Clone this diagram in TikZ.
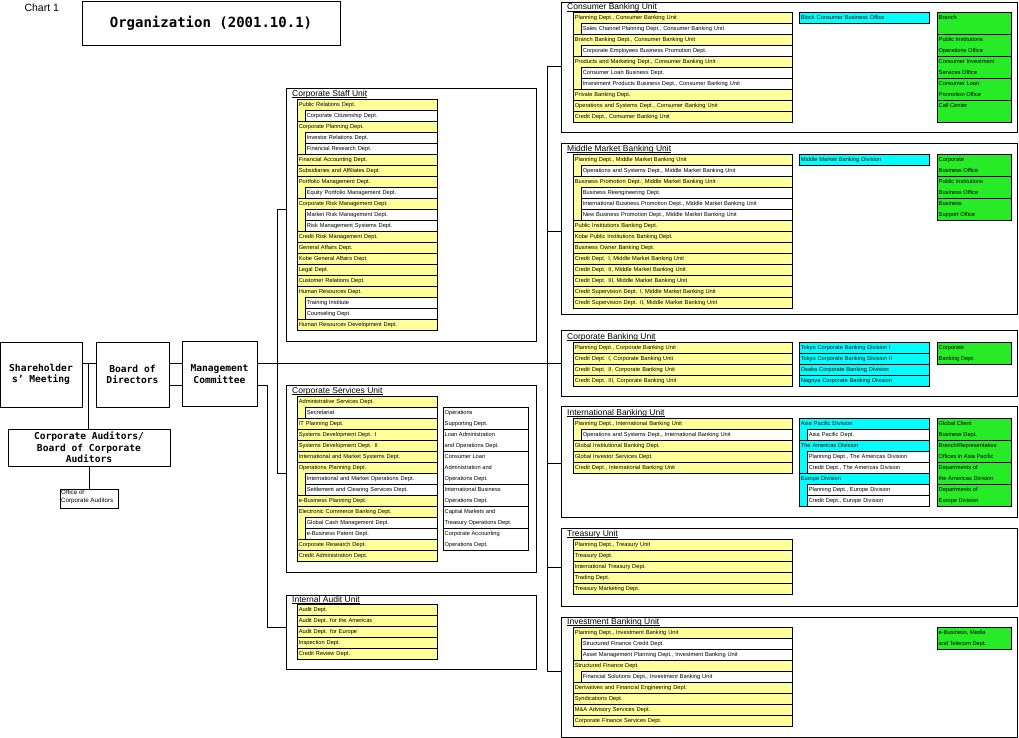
\documentclass[tikz,border=0pt]{standalone}
\usepackage{fontspec}
\setmainfont{Liberation Sans}
\newfontfamily\monobold{DejaVu Sans Mono}
\definecolor{deptyellow}{RGB}{255,255,153}
\definecolor{divcyan}{RGB}{0,255,255}
\definecolor{officegreen}{RGB}{40,235,40}

% #1 prefix, #2 x, #3 top, #4 width, #5 colour, #6 rows {text}/level
\newcommand{\deptcol}[6]{%
  \foreach \lbl/\lvl [count=\i from 0] in {#6} {
    \pgfmathsetmacro{\ytop}{#3+11*\i}
    \xdef\deptrows{\i}
    \ifnum\lvl=0
      \pgfmathsetmacro{\tw}{#4-3}
      \node[deptrow, fill=#5, text width=\tw pt] (#1-\i) at (#2,\ytop) {\lbl};
    \else
      \fill[#5] (#2,\ytop) rectangle ++(8,11);
      \draw[line width=0.6pt] (#2,\ytop) -- ++(0,11);
      \pgfmathsetmacro{\tw}{#4-11}
      \node[deptrow, fill=white, text width=\tw pt] (#1-\i) at (#2+8,\ytop) {\lbl};
    \fi
  }%
  \draw[line width=0.6pt] (#2,#3) rectangle ++(#4,{11*(\deptrows+1)});
}
% #1 prefix, #2 x, #3 top, #4 width, #5 colour, #6 groups {text}/lines
\newcommand{\sidecol}[6]{%
  \foreach \txt/\n [count=\i, remember=\ybot as \yprev (initially #3)] in {#6} {
    \pgfmathsetmacro{\ybot}{\yprev+11*\n}
    \pgfmathsetmacro{\gh}{11*\n}
    \node[sidebox, fill=#5, minimum width=#4, minimum height=\gh pt] (#1-\i) at (#2,\yprev) {};
    \node[sidetext] (#1-\i-t) at ([xshift=1.5pt, yshift=-3pt]#1-\i.north west) {\txt};
  }%
}
% #1 name, #2 x, #3 y, #4 w, #5 h, #6 title, #7 title baseline
\newcommand{\bankunit}[7]{%
  \node[unitbox, minimum width=#4, minimum height=#5] (#1) at (#2,#3) {};
  \node[unittitle] (#1-title) at (#2+6,#7) {#6};
  \draw[line width=0.6pt] ([yshift=-1pt]#1-title.base west) -- ([yshift=-1pt]#1-title.base east);
}

\begin{document}
\begin{tikzpicture}[x=1pt,y=-1pt,
  unitbox/.style={draw, line width=0.6pt, anchor=north west, inner sep=0pt},
  bigbox/.style={draw, line width=0.6pt, align=center, inner sep=0pt,
    font=\monobold\bfseries\fontsize{9.6}{11.5}\selectfont},
  deptrow/.style={draw, line width=0.6pt, anchor=north west, minimum height=11pt,
    inner xsep=1.5pt, inner ysep=0pt, text height=4.2pt, text depth=1.2pt,
    align=left, font=\fontsize{5.7}{7}\selectfont},
  sidebox/.style={draw, line width=0.6pt, anchor=north west, inner sep=0pt},
  sidetext/.style={anchor=north west, inner sep=0pt, align=left,
    font=\fontsize{5.7}{11}\selectfont},
  unittitle/.style={anchor=base west, inner sep=0pt, font=\fontsize{8.5}{10}\selectfont},
  link/.style={line width=0.6pt}]
\useasboundingbox (0,0) rectangle (1019,738);

% heading
\node[anchor=west, font=\fontsize{10.5}{12}\selectfont] (chart) at (21,7.5) {Chart 1};
\node[draw, line width=0.6pt, minimum width=258, minimum height=44,
  font=\monobold\bfseries\fontsize{14}{16}\selectfont] (title) at (211,23) {Organization (2001.10.1)};

% top management
\node[bigbox, minimum width=82, minimum height=65] (share) at (41,374.5) {Shareholder\\s’ Meeting};
\node[bigbox, minimum width=73, minimum height=65] (board) at (132.5,374.5) {Board of\\Directors};
\node[bigbox, minimum width=75, minimum height=65] (mgmt) at (219.5,374) {Management\\Committee};
\node[bigbox, minimum width=162, minimum height=37] (auditors) at (89,447.5)
  {Corporate Auditors/\\Board of Corporate\\Auditors};
\node[draw, line width=0.6pt, minimum width=58, minimum height=19, inner sep=0pt] (office) at (89,498.5) {};
\node[anchor=north west, inner sep=0pt, align=left, font=\fontsize{6.2}{7.4}\selectfont]
  (office-t) at (61,490) {Office of\\Corporate Auditors};

% left units
\bankunit{staff}{286}{88}{250}{253}{Corporate Staff Unit}{96.5}
\deptcol{staff}{297}{99}{140}{deptyellow}{
  {Public Relations Dept.}/0, {Corporate Citizenship Dept.}/1,
  {Corporate Planning Dept.}/0, {Investor Relations Dept.}/1, {Financial Research Dept.}/1,
  {Financial Accounting Dept.}/0, {Subsidiaries and Affiliates Dept.}/0,
  {Portfolio Management Dept.}/0, {Equity Portfolio Management Dept.}/1,
  {Corporate Risk Management Dept.}/0, {Market Risk Management Dept.}/1,
  {Risk Management Systems Dept.}/1, {Credit Risk Management Dept.}/0,
  {General Affairs Dept.}/0, {Kobe General Affairs Dept.}/0, {Legal Dept.}/0,
  {Customer Relations Dept.}/0, {Human Resources Dept.}/0, {Training Institute}/1,
  {Counseling Dept.}/1, {Human Resources Development Dept.}/0}

\bankunit{services}{286}{385}{250}{187}{Corporate Services Unit}{393.5}
\deptcol{services}{297}{396}{140}{deptyellow}{
  {Administrative Services Dept.}/0, {Secretariat}/1, {IT Planning Dept.}/0,
  {Systems Development Dept. I}/0, {Systems Development Dept. II}/0,
  {International and Market Systems Dept.}/0, {Operations Planning Dept.}/0,
  {International and Market Operations Dept.}/1, {Settlement and Clearing Services Dept.}/1,
  {e-Business Planning Dept.}/0, {Electronic Commerce Banking Dept.}/0,
  {Global Cash Management Dept.}/1, {e-Business Patent Dept.}/1,
  {Corporate Research Dept.}/0, {Credit Administration Dept.}/0}
\sidecol{ops}{443}{407}{85}{white}{
  {Operations\\Supporting Dept.}/2, {Loan Administration\\ and Operations Dept.}/2,
  {Consumer Loan\\Administration and\\Operations Dept.}/3,
  {International Business\\Operations Dept.}/2,
  {Capital Markets and\\Treasury Operations Dept.}/2,
  {Corporate Accounting\\Operations Dept.}/2}

\bankunit{audit}{286}{595}{250}{74}{Internal Audit Unit}{602}
\deptcol{audit}{297}{604}{140}{deptyellow}{
  {Audit Dept.}/0, {Audit Dept. for the Americas}/0, {Audit Dept. for Europe}/0,
  {Inspection Dept.}/0, {Credit Review Dept.}/0}

% right units
\bankunit{consumer}{561}{2}{456}{130}{Consumer Banking Unit}{10}
\deptcol{consumer}{573}{12}{219}{deptyellow}{
  {Planning Dept., Consumer Banking Unit}/0,
  {Sales Channel Planning Dept., Consumer Banking Unit}/1,
  {Branch Banking Dept., Consumer Banking Unit}/0,
  {Corporate Employees Business Promotion Dept.}/1,
  {Products and Marketing Dept., Consumer Banking Unit}/0,
  {Consumer Loan Business Dept.}/1,
  {Investment Products Business Dept., Consumer Banking Unit}/1,
  {Private Banking Dept.}/0,
  {Operations and Systems Dept., Consumer Banking Unit}/0,
  {Credit Dept., Consumer Banking Unit}/0}
\deptcol{consumer-div}{799}{12}{130}{divcyan}{{Block Consumer Business Office}/0}
\sidecol{consumer-off}{937}{12}{74}{officegreen}{
  {Branch}/2, {Public Institutions\\Operations Office}/2,
  {Consumer Investment\\Services Office}/2, {Consumer Loan\\Promotion Office}/2,
  {Call Center}/2}

\bankunit{middle}{561}{143}{456}{171}{Middle Market Banking Unit}{151.5}
\deptcol{middle}{573}{154}{219}{deptyellow}{
  {Planning Dept., Middle Market Banking Unit}/0,
  {Operations and Systems Dept., Middle Market Banking Unit}/1,
  {Business Promotion Dept., Middle Market Banking Unit}/0,
  {Business Reengineering Dept.}/1,
  {International Business Promotion Dept., Middle Market Banking Unit}/1,
  {New Business Promotion Dept., Middle Market Banking Unit}/1,
  {Public Institutions Banking Dept.}/0,
  {Kobe Public Institutions Banking Dept.}/0,
  {Business Owner Banking Dept.}/0,
  {Credit Dept. I, Middle Market Banking Unit}/0,
  {Credit Dept. II, Middle Market Banking Unit}/0,
  {Credit Dept. III, Middle Market Banking Unit}/0,
  {Credit Supervision Dept. I, Middle Market Banking Unit}/0,
  {Credit Supervision Dept. II, Middle Market Banking Unit}/0}
\deptcol{middle-div}{799}{154}{130}{divcyan}{{Middle Market Banking Division}/0}
\sidecol{middle-off}{937}{154}{74}{officegreen}{
  {Corporate\\Business Office}/2, {Public Institutions\\Business Office}/2,
  {Business\\Support Office}/2}

\bankunit{corporate}{561}{330}{456}{66}{Corporate Banking Unit}{339.5}
\deptcol{corporate}{573}{342}{219}{deptyellow}{
  {Planning Dept., Corporate Banking Unit}/0, {Credit Dept. I, Corporate Banking Unit}/0,
  {Credit Dept. II, Corporate Banking Unit}/0, {Credit Dept. III, Corporate Banking Unit}/0}
\deptcol{corporate-div}{799}{342}{130}{divcyan}{
  {Tokyo Corporate Banking Division I}/0, {Tokyo Corporate Banking Division II}/0,
  {Osaka Corporate Banking Division}/0, {Nagoya Corporate Banking Division}/0}
\sidecol{corporate-off}{937}{342}{74}{officegreen}{{Corporate\\Banking Dept.}/2}

\bankunit{intl}{561}{406}{456}{111}{International Banking Unit}{415.5}
\deptcol{intl}{573}{418}{219}{deptyellow}{
  {Planning Dept., International Banking Unit}/0,
  {Operations and Systems Dept., International Banking Unit}/1,
  {Global Institutional Banking Dept.}/0, {Global Investor Services Dept.}/0,
  {Credit Dept., International Banking Unit}/0}
\deptcol{intl-div}{799}{418}{130}{divcyan}{
  {Asia Pacific Division}/0, {Asia Pacific Dept.}/1, {The Americas Division}/0,
  {Planning Dept., The Americas Division}/1, {Credit Dept., The Americas Division}/1,
  {Europe Division}/0, {Planning Dept., Europe Division}/1, {Credit Dept., Europe Division}/1}
\sidecol{intl-off}{937}{418}{74}{officegreen}{
  {Global Client\\Business Dept.}/2, {Branch/Representative\\Offices in Asia Pacific}/2,
  {Departments of\\the Americas Division}/2, {Departments of\\Europe Division}/2}

\bankunit{treasury}{561}{528}{456}{78}{Treasury Unit}{536.5}
\deptcol{treasury}{573}{539}{219}{deptyellow}{
  {Planning Dept., Treasury Unit}/0, {Treasury Dept.}/0, {International Treasury Dept.}/0,
  {Trading Dept.}/0, {Treasury Marketing Dept.}/0}

\bankunit{invest}{561}{617}{456}{120}{Investment Banking Unit}{624.5}
\deptcol{invest}{573}{627}{219}{deptyellow}{
  {Planning Dept., Investment Banking Unit}/0, {Structured Finance Credit Dept.}/1,
  {Asset Management Planning Dept., Investment Banking Unit}/1,
  {Structured Finance Dept.}/0, {Financial Solutions Dept., Investment Banking Unit}/1,
  {Derivatives and Financial Engineering Dept.}/0, {Syndications Dept.}/0,
  {M\&A Advisory Services Dept.}/0, {Corporate Finance Services Dept.}/0}
\sidecol{invest-off}{937}{627}{74}{officegreen}{{e-Business, Media\\and Telecom Dept.}/2}

% connectors
\coordinate (jsh) at (88,363);
\coordinate (jlo) at (267,385);
\coordinate (jaud) at (267,627);
\coordinate (lt1) at (277,209);
\coordinate (lt2) at (277,473);
\coordinate (rt1) at (547,66);
\coordinate (rt6) at (547,671);
\draw[link] (share.east |- jsh) -- (board.west |- jsh);
\draw[link] (jsh) -- (auditors.north -| jsh);
\draw[link] (auditors.south) -- (office.north);
\draw[link] (board.east |- jsh) -- (mgmt.west |- jsh);
\draw[link] (board.east |- jlo) -- (mgmt.west |- jlo);
\draw[link] (mgmt.east |- jsh) -- (corporate.west |- jsh);
\draw[link] (mgmt.east |- jlo) -- (jlo) -- (jaud) -- (audit.west |- jaud);
\draw[link] (staff.west |- lt1) -- (lt1) -- (lt2) -- (services.west |- lt2);
\draw[link] (rt1) -- (rt6);
\foreach \u/\yy in {consumer/66, middle/231, intl/463, treasury/567, invest/671} {
  \coordinate (rt-\u) at (547,\yy);
  \draw[link] (rt-\u) -- (\u.west |- rt-\u);
}
\end{tikzpicture}
\end{document}
